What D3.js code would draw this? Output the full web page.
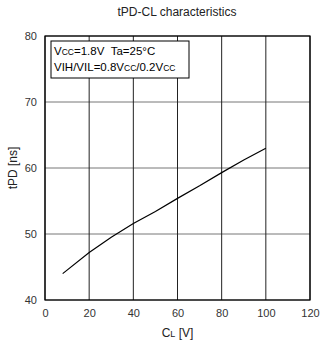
<!DOCTYPE html>
<html>
<head>
<meta charset="utf-8">
<script src="https://cdn.jsdelivr.net/npm/d3@7"></script>
<style>
  body { margin: 0; background: #fff; }
  svg { display: block; font-family: 'Liberation Sans', Arial, sans-serif; }
</style>
</head>
<body>
<svg width="322" height="344"></svg>
<script>
// data
const loadCap = [8, 20, 30, 40, 50, 60, 70, 80, 90, 100];
const tpd = [44.0, 47.2, 49.5, 51.6, 53.4, 55.4, 57.3, 59.3, 61.2, 63.0];
const xTicks = [0, 20, 40, 60, 80, 100, 120];
const yTicks = [40, 50, 60, 70, 80];

const svg = d3.select('svg');
const margin = { top: 36, right: 12, bottom: 44, left: 45 };
const width = 322 - margin.left - margin.right;
const height = 344 - margin.top - margin.bottom;

const x = d3.scaleLinear().domain([0, 120]).range([0, width]);
const y = d3.scaleLinear().domain([40, 80]).range([height, 0]);

const g = svg.append('g').attr('transform', `translate(${margin.left},${margin.top})`);

// grid
g.append('g')
  .selectAll('line')
  .data(yTicks)
  .enter()
  .append('line')
  .attr('x1', 0)
  .attr('x2', width)
  .attr('y1', d => y(d))
  .attr('y2', d => y(d))
  .attr('stroke', '#777')
  .attr('stroke-width', 1);

g.append('g')
  .selectAll('line')
  .data(xTicks)
  .enter()
  .append('line')
  .attr('x1', d => x(d))
  .attr('x2', d => x(d))
  .attr('y1', 0)
  .attr('y2', height)
  .attr('stroke', '#222')
  .attr('stroke-width', 1);

// frame
g.append('rect')
  .attr('width', width)
  .attr('height', height)
  .attr('fill', 'none')
  .attr('stroke', '#000')
  .attr('stroke-width', 1.2);

// axes (labels only)
const xAxis = g.append('g')
  .attr('transform', `translate(0,${height})`)
  .call(d3.axisBottom(x).tickValues(xTicks).tickSize(0).tickPadding(9));
const yAxis = g.append('g')
  .call(d3.axisLeft(y).tickValues(yTicks).tickSize(0).tickPadding(8));
[xAxis, yAxis].forEach(a => {
  a.select('.domain').remove();
  a.selectAll('text')
    .attr('font-size', 11)
    .attr('font-family', "'Liberation Sans', Arial, sans-serif")
    .attr('fill', '#333');
});

// curve
const pts = loadCap.map((c, i) => [c, tpd[i]]);
g.append('path')
  .datum(pts)
  .attr('fill', 'none')
  .attr('stroke', '#000')
  .attr('stroke-width', 1.2)
  .attr('d', d3.line().x(d => x(d[0])).y(d => y(d[1])));

// legend box
g.append('rect')
  .attr('x', 6)
  .attr('y', 5)
  .attr('width', 138)
  .attr('height', 37)
  .attr('fill', '#fff')
  .attr('stroke', '#000')
  .attr('stroke-width', 1);

const l1 = g.append('text').attr('x', 9).attr('y', 19).attr('font-size', 11.5);
l1.append('tspan').text('V');
l1.append('tspan').attr('font-size', 8.5).text('CC');
l1.append('tspan').text('=1.8V\u00a0\u00a0Ta=25°C');

const l2 = g.append('text').attr('x', 9).attr('y', 35).attr('font-size', 11.5);
l2.append('tspan').text('VIH/VIL=0.8V');
l2.append('tspan').attr('font-size', 8.5).text('CC');
l2.append('tspan').text('/0.2V');
l2.append('tspan').attr('font-size', 8.5).text('CC');

// title
svg.append('text')
  .attr('x', 177)
  .attr('y', 16)
  .attr('text-anchor', 'middle')
  .attr('font-size', 12)
  .attr('fill', '#222')
  .text('tPD-CL characteristics');

// x label
const xl = svg.append('text')
  .attr('x', margin.left + width / 2)
  .attr('y', 337)
  .attr('text-anchor', 'middle')
  .attr('font-size', 12)
  .attr('fill', '#222');
xl.append('tspan').text('C');
xl.append('tspan').attr('font-size', 9).text('L');
xl.append('tspan').text(' [V]');

// y label
svg.append('text')
  .attr('transform', `translate(17,${margin.top + height / 2}) rotate(-90)`)
  .attr('text-anchor', 'middle')
  .attr('font-size', 12)
  .attr('fill', '#222')
  .text('tPD [ns]');
</script>
</body>
</html>
